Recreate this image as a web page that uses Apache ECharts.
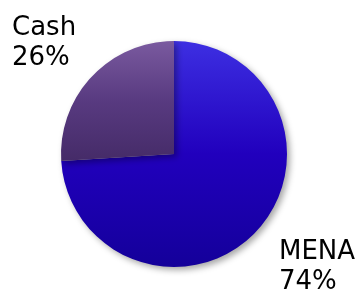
<!DOCTYPE html>
<html>
<head>
<meta charset="utf-8">
<script src="https://cdn.jsdelivr.net/npm/echarts@6/dist/echarts.min.js"></script>
<style>
  html, body { margin: 0; padding: 0; background: #fff; }
  #main { width: 356px; height: 293px; }
</style>
</head>
<body>
<div id="main"></div>
<script>
// pie slices, clockwise from 12 o'clock
const names = ["MENA", "Cash"];
const values = [74, 26];
const topColors = ["#3d2fe2", "#7a5a9f"];
const midColors = ["#2100bd", "#583a80"];
const bottomColors = ["#14009a", "#452b68"];
// label anchor (top-left corner) for each slice
const labelSpots = [[279, 237], [12, 13]];

const chart = echarts.init(document.getElementById("main"));

const pieData = names.map((name, i) => ({
  name: name,
  value: values[i],
  itemStyle: {
    color: new echarts.graphic.LinearGradient(0, 0, 0, 1, [
      { offset: 0, color: topColors[i] },
      { offset: 0.5, color: midColors[i] },
      { offset: 1, color: bottomColors[i] },
    ]),
  },
}));

chart.setOption({
  animation: false,
  series: [
    {
      type: "pie",
      center: [174, 154],
      radius: 113,
      startAngle: 90,
      clockwise: true,
      data: pieData,
      itemStyle: {
        shadowBlur: 6,
        shadowOffsetX: 3,
        shadowOffsetY: 3,
        shadowColor: "rgba(0,0,0,0.35)",
      },
      label: {
        show: true,
        position: "outside",
        formatter: (p) => p.name + "\n" + p.value + "%",
        fontFamily: "DejaVu Sans",
        fontSize: 26,
        lineHeight: 30,
        color: "#000",
        align: "left",
        overflow: "none",
      },
      labelLine: { show: false },
      labelLayout: (p) => ({
        x: labelSpots[p.dataIndex][0],
        y: labelSpots[p.dataIndex][1],
        align: "left",
        verticalAlign: "top",
      }),
      emphasis: { disabled: true },
    },
  ],
});
</script>
</body>
</html>
